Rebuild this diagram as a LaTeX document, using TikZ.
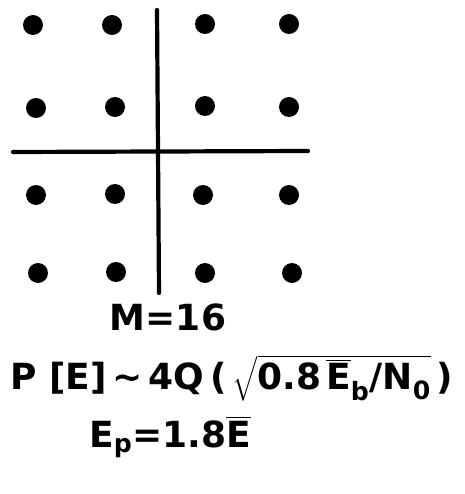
\documentclass[tikz,border=0pt]{standalone}
\usepackage{amsmath}
\usepackage{fontspec}
\setmainfont{DejaVu Sans}
\usepackage{tikz}
\usetikzlibrary{positioning}

\begin{document}
\begin{tikzpicture}[
        x=1pt, y=-1pt,
        ponto/.style={circle, fill=black, inner sep=0pt, minimum size=20pt},
        eixo/.style={line width=4.2pt, line cap=round},
        rotulo/.style={font=\fontsize{36}{40}\selectfont\bfseries\boldmath, inner sep=0pt}
    ]
        \useasboundingbox (0,0) rectangle (464,494);

        % constelacao 16 pontos
        \node[ponto] (p11) at (33,25) {};
        \node[ponto] (p12) at (112,25) {};
        \node[ponto] (p13) at (205,24) {};
        \node[ponto] (p14) at (289,24) {};
        \node[ponto] (p21) at (36,108) {};
        \node[ponto] (p22) at (115,107) {};
        \node[ponto] (p23) at (205,106) {};
        \node[ponto] (p24) at (289,107) {};
        \node[ponto] (p31) at (36,195) {};
        \node[ponto] (p32) at (115,194) {};
        \node[ponto] (p33) at (203,195) {};
        \node[ponto] (p34) at (289,195) {};
        \node[ponto] (p41) at (38,273) {};
        \node[ponto] (p42) at (116,272) {};
        \node[ponto] (p43) at (205,273) {};
        \node[ponto] (p44) at (292,273) {};

        % eixos
        \coordinate (cima) at (157,10);
        \coordinate (baixo) at (159,293);
        \coordinate (esq) at (13,152);
        \coordinate (dir) at (308,151);
        \draw[eixo] (cima) -- (baixo);
        \draw[eixo] (esq) -- (dir);

        % textos
        \node[rotulo] (ordem) at (168,317) {M=16};
        \node[rotulo] (prob) at (232,378) {P\,\,[E]\,\symbol{"223C}\,4Q\,(\,$\sqrt{\text{0.8}\,\overline{\text{E}}_{\text{b}}\text{/N}_{\text{0}}}$\,)};
        \node[rotulo] (energia) at (170,437) {E\textsubscript{p}=1.8$\overline{\text{E}}$};
    \end{tikzpicture}
\end{document}
